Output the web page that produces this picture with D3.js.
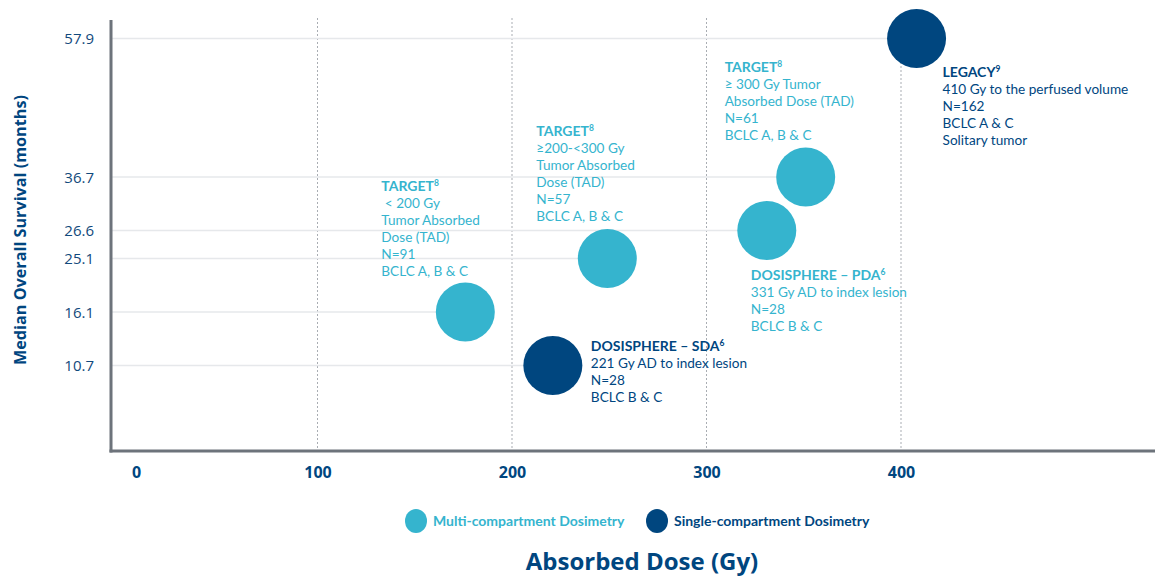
<!DOCTYPE html>
<html><head><meta charset="utf-8">
<script src="https://cdn.jsdelivr.net/npm/d3@7"></script>
<style>
html,body{margin:0;padding:0;background:#fff;}
svg{display:block;}
.cond{font-family:"Lato",sans-serif;}
</style></head>
<body>
<svg id="chart" width="1155" height="577"></svg>
<script>
// ---- data ----
const studies   = ["TARGET", "TARGET", "TARGET", "DOSISPHERE – PDA", "DOSISPHERE – SDA", "LEGACY"];
const refs      = ["8", "8", "8", "6", "6", "9"];
const dose      = [176, 249, 351, 331, 221, 408];
const survival  = [16.1, 25.1, 36.7, 26.6, 10.7, 57.9];
const dosimetry = ["Multi", "Multi", "Multi", "Multi", "Single", "Single"];
const details = [
  [" < 200 Gy", "Tumor Absorbed", "Dose (TAD)", "N=91", "BCLC A, B & C"],
  ["≥200-<300 Gy", "Tumor Absorbed", "Dose (TAD)", "N=57", "BCLC A, B & C"],
  ["≥ 300 Gy Tumor", "Absorbed Dose (TAD)", "N=61", "BCLC A, B & C"],
  ["331 Gy AD to index lesion", "N=28", "BCLC B & C"],
  ["221 Gy AD to index lesion", "N=28", "BCLC B & C"],
  ["410 Gy to the perfused volume", "N=162", "BCLC A & C", "Solitary tumor"]
];
const xTicks = [0, 100, 200, 300, 400];
const yTicks = [57.9, 36.7, 26.6, 25.1, 16.1, 10.7];
const legendKeys   = ["Multi", "Single"];
const legendLabels = ["Multi-compartment Dosimetry", "Single-compartment Dosimetry"];
const xTitle = "Absorbed Dose (Gy)";
const yTitle = "Median Overall Survival (months)";

// ---- layout ----
const W = 1155, H = 577;
const plot = {left: 111, top: 18, right: 1155, bottom: 451};
const ySlots = [38.5, 177, 230.5, 258.5, 312, 365.5]; // uneven y-axis spacing of the original
const labelOffsets = [[-84,-121],[-71,-123],[-81,-105],[-16,49],[38,-15],[26,38]];
const teal = "#35b4ce", navy = "#00467f", tickBlue = "#11497c";
const color = d3.scaleOrdinal().domain(legendKeys).range([teal, navy]);

const svg = d3.select("#chart");
const x = d3.scaleLinear().domain([0, 400]).range([123, 901]);
const y = d3.scaleLinear().domain(yTicks).range(ySlots);

const pts = dose.map((d, i) => ({dose: d, os: survival[i], type: dosimetry[i], study: studies[i], ref: refs[i], lines: details[i], off: labelOffsets[i]}));

// vertical dotted grid
svg.append("g").selectAll("line").data(xTicks.filter(d => d > 0)).join("line")
  .attr("x1", d => x(d)).attr("x2", d => x(d))
  .attr("y1", plot.top).attr("y2", plot.bottom)
  .attr("stroke", "#a9adb3").attr("stroke-width", 1).attr("stroke-dasharray", "2,2");

// horizontal grid lines from axis to each bubble
svg.append("g").selectAll("line").data(pts).join("line")
  .attr("x1", plot.left).attr("x2", d => x(d.dose))
  .attr("y1", d => y(d.os)).attr("y2", d => y(d.os))
  .attr("stroke", "#e6e8eb").attr("stroke-width", 1.5);

// axes lines
svg.append("line").attr("x1", plot.left).attr("x2", plot.left).attr("y1", plot.top + 2).attr("y2", plot.bottom + 1.5)
  .attr("stroke", "#6d737b").attr("stroke-width", 3);
svg.append("line").attr("x1", plot.left - 1.5).attr("x2", plot.right).attr("y1", plot.bottom).attr("y2", plot.bottom)
  .attr("stroke", "#6d737b").attr("stroke-width", 3);

// y tick labels
const yAxis = d3.axisLeft(y).tickValues(yTicks).tickFormat(d3.format(".1f")).tickSize(0).tickPadding(0);
const gy = svg.append("g").attr("transform", `translate(94,0)`).call(yAxis);
gy.select(".domain").remove();
gy.selectAll("text").attr("fill", tickBlue).attr("font-family", "Open Sans").attr("font-size", 15).attr("dy", "0.35em");

// x tick labels
const xAxis = d3.axisBottom(x).tickValues(xTicks).tickFormat(d3.format("d")).tickSize(0).tickPadding(0);
const gx = svg.append("g").attr("transform", `translate(0,467)`).call(xAxis);
gx.select(".domain").remove();
gx.selectAll("text").attr("fill", navy).attr("font-family", "Open Sans").attr("font-weight", 700).attr("font-size", 16)
  .attr("dx", d => d === 0 ? 13 : 0);

// bubbles
svg.append("g").selectAll("circle").data(pts).join("circle")
  .attr("cx", d => x(d.dose)).attr("cy", d => y(d.os)).attr("r", 29.5)
  .attr("fill", d => color(d.type));

// annotations
const ann = svg.append("g").selectAll("text").data(pts).join("text")
  .attr("class", "cond")
  .attr("x", d => x(d.dose) + d.off[0]).attr("y", d => y(d.os) + d.off[1])
  .attr("fill", d => color(d.type)).attr("font-size", 13.6);
ann.each(function(d) {
  const t = d3.select(this);
  const x0 = x(d.dose) + d.off[0];
  t.append("tspan").attr("font-weight", 700).attr("font-size", 14).text(d.study);
  t.append("tspan").attr("font-weight", 700).attr("font-size", 8.5).attr("dy", -5).text(d.ref);
  d.lines.forEach((l, k) => {
    t.append("tspan").attr("x", x0).attr("dy", k === 0 ? 22 : 17).text(l);
  });
});

// legend
const lg = svg.append("g").attr("class", "cond");
const legX = [416, 657];
legendKeys.forEach((k, i) => {
  lg.append("ellipse").attr("cx", legX[i]).attr("cy", 521).attr("rx", 11).attr("ry", 12).attr("fill", color(k));
  lg.append("text").attr("x", legX[i] + 17).attr("y", 526).attr("font-size", 14).attr("font-weight", 700)
    .attr("fill", color(k)).text(legendLabels[i]);
});

// axis titles
svg.append("text").attr("x", 642).attr("y", 570).attr("text-anchor", "middle")
  .attr("font-family", "Open Sans").attr("font-weight", 700).attr("font-size", 24).attr("fill", navy).text(xTitle);
svg.append("text").attr("transform", "translate(26,230) rotate(-90)").attr("text-anchor", "middle")
  .attr("font-family", "Open Sans").attr("font-weight", 700).attr("font-size", 16.2).attr("fill", navy).text(yTitle);
</script>
</body></html>
